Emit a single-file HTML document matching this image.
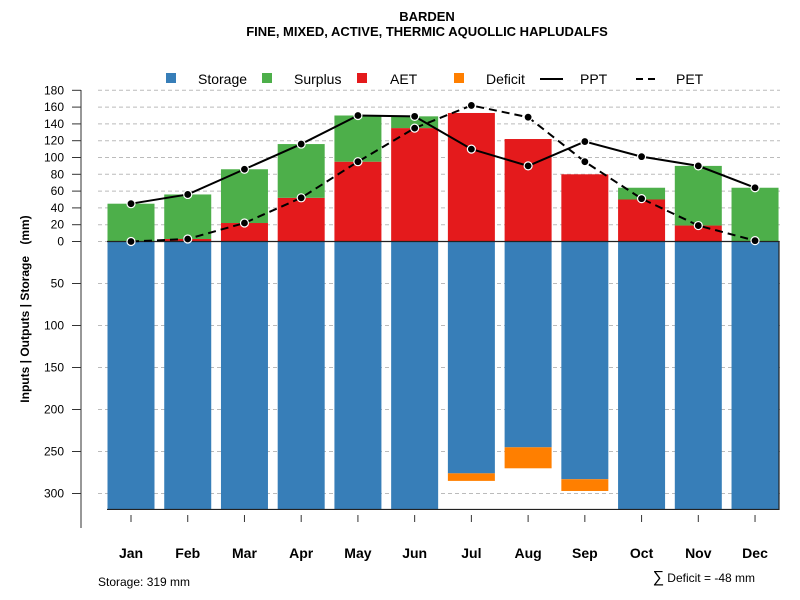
<!DOCTYPE html>
<html><head><meta charset="utf-8"><style>
body{margin:0;background:#fff;}
svg{display:block;font-family:"Liberation Sans",Arial,sans-serif;}
</style></head><body>
<svg id="chart" width="800" height="600">
<text x="427" y="21" text-anchor="middle" font-size="13" font-weight="bold">BARDEN</text>
<text x="427" y="36" text-anchor="middle" font-size="13" font-weight="bold">FINE, MIXED, ACTIVE, THERMIC AQUOLLIC HAPLUDALFS</text>
<text transform="translate(29,309) rotate(-90)" text-anchor="middle" font-size="12" font-weight="bold">Inputs | Outputs | Storage <tspan dx="8">(mm)</tspan></text>
<text x="98" y="586" font-size="12">Storage: 319 mm</text>
<text x="755" y="582" text-anchor="end" font-size="12"><tspan font-size="16">∑</tspan> Deficit = -48 mm</text>
<g id="legend">
<rect x="166" y="73" width="10" height="10" fill="#377eb8"/>
<text x="198" y="84" font-size="14">Storage</text>
<rect x="262" y="73" width="10" height="10" fill="#4daf4a"/>
<text x="294" y="84" font-size="14">Surplus</text>
<rect x="357" y="73" width="10" height="10" fill="#e41a1c"/>
<text x="390" y="84" font-size="14">AET</text>
<rect x="454" y="73" width="10" height="10" fill="#ff7f00"/>
<text x="486" y="84" font-size="14">Deficit</text>
<line x1="540" y1="79" x2="563" y2="79" stroke="#000" stroke-width="2"/>
<text x="580" y="84" font-size="14">PPT</text>
<line x1="636" y1="79" x2="659" y2="79" stroke="#000" stroke-width="2" stroke-dasharray="7,5"/>
<text x="676" y="84" font-size="14">PET</text>
</g>
<g id="plot"></g>
</svg>
<script>
const months=["Jan","Feb","Mar","Apr","May","Jun","Jul","Aug","Sep","Oct","Nov","Dec"];
const ppt=[45,56,86,116,150,149,110,90,119,101,90,64];
const pet=[0,3,22,52,95,135,162,148,95,51,19,1];
const aet=[0,3,22,52,95,135,153,122,80,50,19,0];
const surplus=[45,53,64,64,55,14,0,0,0,14,71,64];
const storage=[319,319,319,319,319,319,276,245,283,319,319,319];
const deficit=[0,0,0,0,0,0,9,25,14,0,0,0];
const topTicks=[0,20,40,60,80,100,120,140,160,180];
const bottomTicks=[50,100,150,200,250,300];
const maxStorage=319;

const NS="http://www.w3.org/2000/svg";
const g=document.getElementById('plot');
const y0=241.5, k=0.84;
function yUp(v){return y0-v*k;}
function yDown(v){return y0+v*k;}
function xC(i){return 131+i*56.73;}
const bw=47;
function mk(t,a){const e=document.createElementNS(NS,t);for(const n in a)e.setAttribute(n,a[n]);g.appendChild(e);return e;}

let e=mk('line',{x1:81,y1:90,x2:81,y2:528,stroke:'#777','stroke-width':1.5});


topTicks.forEach(v=>{
 const y=yUp(v);
 let l=mk('line',{x1:98,y1:y,x2:780,y2:y,stroke:'#bbb','stroke-dasharray':'4,3'});
 
 
 let t=mk('line',{x1:72,y1:y,x2:81,y2:y,stroke:'#333'});
 
 
 let tx=mk('text',{x:64,y:y+4,'text-anchor':'end','font-size':12});
 tx.textContent=v;
 
 
});
bottomTicks.forEach(v=>{
 const y=yDown(v);
 let l=mk('line',{x1:98,y1:y,x2:780,y2:y,stroke:'#bbb','stroke-dasharray':'4,3'});
 
 
 let t=mk('line',{x1:72,y1:y,x2:81,y2:y,stroke:'#333'});
 
 
 let tx=mk('text',{x:64,y:y+4,'text-anchor':'end','font-size':12});
 tx.textContent=v;
 
 
});

months.forEach((m,i)=>{
 const x=xC(i)-bw/2;
 let s=mk('rect',{x:x,y:y0,width:bw,height:storage[i]*k,fill:'#377eb8'});
 
 
 if(deficit[i]>0){
  let d=mk('rect',{x:x,y:yDown(storage[i]),width:bw,height:deficit[i]*k,fill:'#ff7f00'});
  
  
 }
 if(aet[i]>0){
  let a=mk('rect',{x:x,y:yUp(aet[i]),width:bw,height:aet[i]*k,fill:'#e41a1c'});
  
  
 }
 if(surplus[i]>0){
  let su=mk('rect',{x:x,y:yUp(aet[i]+surplus[i]),width:bw,height:surplus[i]*k,fill:'#4daf4a'});
  
  
 }
 let t=mk('line',{x1:xC(i),y1:515,x2:xC(i),y2:522,stroke:'#333'});
 
 
 let tx=mk('text',{x:xC(i),y:558,'text-anchor':'middle','font-size':14,'font-weight':'bold'});
 tx.textContent=m;
 
 
});
let bx=mk('path',{d:`M107 ${y0} H779 V${yDown(maxStorage)} H107`,fill:'none',stroke:'#222','stroke-width':1.2});



function series(vals,name,dash){
 const pts=vals.map((v,i)=>xC(i)+','+yUp(v)).join(' ');
 let p=mk('polyline',{points:pts,fill:'none',stroke:'#000','stroke-width':2});
 if(dash)p.setAttribute('stroke-dasharray','8,5');
 
 
 vals.forEach((v,i)=>{
  let c=mk('circle',{cx:xC(i),cy:yUp(v),r:4,fill:'#000',stroke:'#fff','stroke-width':1.2});
  
  
 });
}
series(pet,'pet',true);
series(ppt,'ppt',false);
</script>
</body></html>
